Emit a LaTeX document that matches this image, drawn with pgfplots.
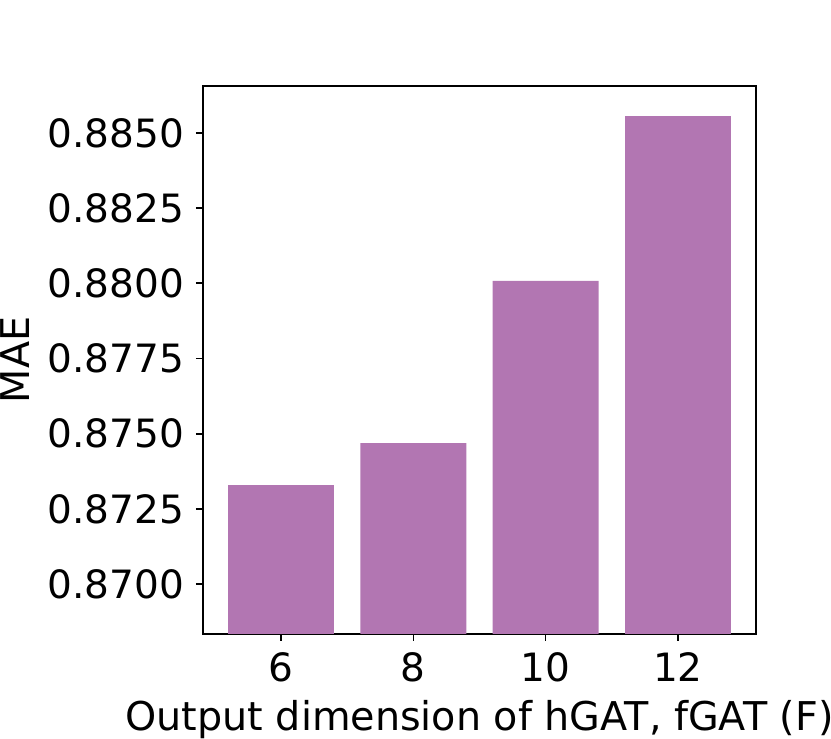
\documentclass[border=0pt]{standalone}
\usepackage{fontspec}
\setmainfont{DejaVu Sans}
\usepackage{pgfplots}
\pgfplotsset{compat=1.18}
\usetikzlibrary{calc}
\definecolor{barpurple}{RGB}{178,118,178}

\begin{document}
\begin{tikzpicture}
\begin{axis}[
    scale only axis,
    width=165.9pt, height=164.4pt,
    ybar, bar width=0.8,
    xmin=-0.59, xmax=3.59,
    ymin=0.86834, ymax=0.88656,
    xtick={0,1,2,3}, xticklabels={6,8,10,12},
    ytick={0.8700,0.8725,0.8750,0.8775,0.8800,0.8825,0.8850},
    yticklabel style={/pgf/number format/fixed, /pgf/number format/precision=4, /pgf/number format/fixed zerofill},
    /pgf/number format/assume math mode=true,
    tick pos=left, tick align=outside,
    major tick length=2.1pt,
    every tick/.style={black, line width=0.5pt},
    axis line style={line width=0.6pt},
    tick label style={font=\fontsize{11.7pt}{14pt}\selectfont},
    label style={font=\fontsize{11.9pt}{14pt}\selectfont},
    xlabel={Output dimension of hGAT, fGAT (F)},
    ylabel={MAE},
    xlabel style={at={(rel axis cs:0.5,0)}, anchor=north, inner sep=0pt, yshift=-19.8pt},
    ylabel style={at={(rel axis cs:0,0.5)}, anchor=south, inner sep=0pt, yshift=51.9pt},
]
\addplot[fill=barpurple, draw=none] coordinates {
    (0,0.87329) (1,0.87469) (2,0.88008) (3,0.88556)
};
\coordinate (bl) at (rel axis cs:0,0);
\coordinate (tr) at (rel axis cs:1,1);
\end{axis}
\pgfresetboundingbox
\useasboundingbox ($(bl)+(-60.9pt,-31.5pt)$) rectangle ($(tr)+(22.5pt,25.8pt)$);
\end{tikzpicture}
\end{document}
